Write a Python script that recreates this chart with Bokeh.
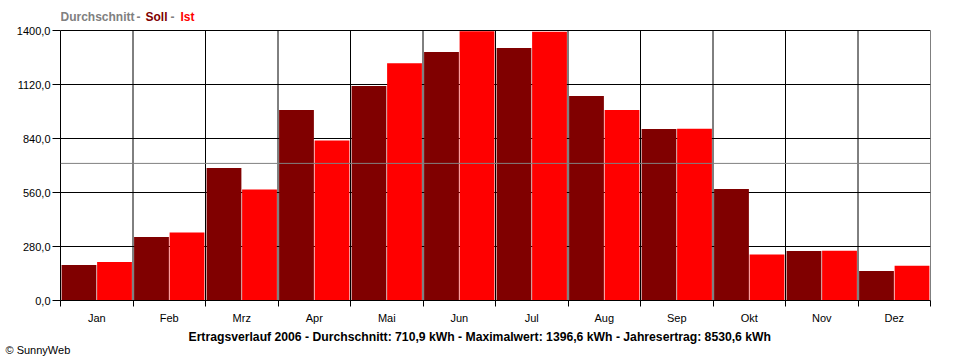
import numpy as np
from bokeh.plotting import figure
from bokeh.models import (ColumnDataSource, FixedTicker, Range1d, Span, Label, Title)
from bokeh.embed import file_html
from bokeh.resources import INLINE

months = ["Jan", "Feb", "Mrz", "Apr", "Mai", "Jun", "Jul", "Aug", "Sep", "Okt", "Nov", "Dez"]
soll = [184, 329, 687, 988, 1112, 1289, 1309, 1060, 889, 578, 257, 153]
ist = [200, 352, 575, 829, 1230, 1396.6, 1393, 988, 891, 238, 258, 180]
average = 710.9
y_ticks = [0, 280, 560, 840, 1120, 1400]
y_labels = ["0,0", "280,0", "560,0", "840,0", "1120,0", "1400,0"]
footer = "Ertragsverlauf 2006 - Durchschnitt: 710,9 kWh - Maximalwert: 1396,6 kWh - Jahresertrag: 8530,6 kWh"
legend_parts = ["Durchschnitt", "-", "Soll", "-", "Ist"]
legend_colors = ["#808080", "#808080", "#800000", "#808080", "#FF0000"]

FONT = "Liberation Sans"

# layout constants (pixels)
TOP_BORDER = 2
AXIS_TOP_PX = 30          # canvas y of the 1400 line
FRAME_BOTTOM_PX = 300     # canvas y of the 0 line
frame_h = FRAME_BOTTOM_PX - TOP_BORDER
ymax_val = y_ticks[-1]
y_end = ymax_val * frame_h / (FRAME_BOTTOM_PX - AXIS_TOP_PX)
units_per_px_y = y_end / frame_h
units_per_px_x = 12 / 870.0

idx = np.arange(len(months))
src = ColumnDataSource(dict(xs=idx + 0.255, xi=idx + 0.745, soll=soll, ist=ist))
bounds = list(range(len(months) + 1))
grid_src = ColumnDataSource(dict(x=bounds, y0=[y_ticks[0]] * len(bounds),
                                 y1=[y_ticks[-1]] * len(bounds)))

p = figure(width=960, height=360, output_backend="svg", toolbar_location=None,
           x_range=Range1d(0, 12), y_range=Range1d(0, y_end),
           min_border_left=60, min_border_right=30, min_border_top=TOP_BORDER,
           min_border_bottom=360 - FRAME_BOTTOM_PX)
p.background_fill_color = "white"
p.border_fill_color = "white"
p.outline_line_color = None

# vertical month dividers (under bars)
p.segment(x0="x", y0="y0", x1="x", y1="y1", source=grid_src, line_color="black",
          line_width=1, level="underlay")

p.vbar(x="xs", top="soll", width=0.48, source=src, fill_color="#800000", line_color=None)
p.vbar(x="xi", top="ist", width=0.48, source=src, fill_color="#FF0000", line_color=None)
p.add_layout(Span(location=average, dimension="width", line_color="#808080", line_width=1))

p.yaxis.ticker = FixedTicker(ticks=y_ticks)
p.yaxis.bounds = (y_ticks[0], y_ticks[-1])
p.yaxis.major_label_overrides = {t: l for t, l in zip(y_ticks, y_labels)}
p.yaxis.major_tick_out = 8
p.yaxis.major_tick_in = 0
p.yaxis.minor_tick_out = 0
p.yaxis.minor_tick_in = 0
p.yaxis.major_label_standoff = 2
p.yaxis.axis_line_color = "black"
p.yaxis.major_tick_line_color = "black"
p.yaxis.major_label_text_font = FONT
p.yaxis.major_label_text_font_size = "11px"
p.yaxis.major_label_text_color = "black"

centers = list(idx + 0.5)
p.xaxis.ticker = FixedTicker(ticks=centers, minor_ticks=bounds)
p.xaxis.major_label_overrides = {float(c): m for c, m in zip(centers, months)}
p.xaxis.major_tick_out = 0
p.xaxis.major_tick_in = 0
p.xaxis.minor_tick_out = 6
p.xaxis.minor_tick_in = 0
p.xaxis.minor_tick_line_color = "black"
p.xaxis.axis_line_color = "black"
p.xaxis.major_label_standoff = 5
p.xaxis.major_label_text_font = FONT
p.xaxis.major_label_text_font_size = "11px"
p.xaxis.major_label_text_color = "black"

p.ygrid.ticker = FixedTicker(ticks=y_ticks)
p.ygrid.grid_line_color = "black"
p.xgrid.visible = False

# header inside the extended frame
head_px = [60, 136, 145, 170, 180]
head_y = ymax_val + 14 * units_per_px_y
for txt, col, xpx in zip(legend_parts, legend_colors, head_px):
    p.add_layout(Label(x=(xpx - 60) * units_per_px_x, y=head_y, text=txt, text_color=col,
                       text_font=FONT, text_font_style="bold", text_font_size="12px",
                       text_baseline="middle", text_align="left"))

p.add_layout(Title(text=footer, align="left", offset=128, standoff=3, text_color="black",
                   text_font=FONT, text_font_style="bold", text_font_size="12.2px"), "below")
p.add_layout(Title(text="\u00a9 SunnyWeb", align="left", offset=-55, standoff=-8,
                   text_color="black", text_font=FONT, text_font_style="normal",
                   text_font_size="11px"), "below")

open("out.html", "w").write(file_html(p, INLINE))
